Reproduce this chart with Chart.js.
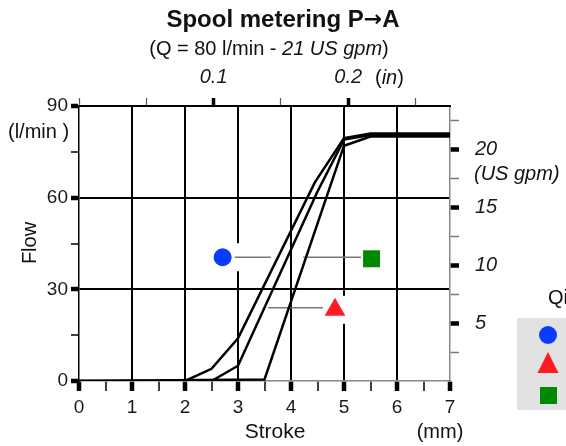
<!DOCTYPE html>
<html>
<head>
<meta charset="utf-8">
<script src="https://cdn.jsdelivr.net/npm/chart.js"></script>
<style>
  html, body { margin: 0; padding: 0; background: #fff; overflow: hidden; }
</style>
</head>
<body>
<canvas id="spoolChart" width="566" height="446"></canvas>
<script>
// curves: stroke (mm) -> flow (l/min)
const strokeA = [0, 2, 2.5, 3, 4.45, 5, 5.5, 7];
const flowA   = [0, 0, 4, 14, 65, 79.5, 81, 81];
const strokeB = [0, 2.5, 3, 4.5, 5, 5.5, 7];
const flowB   = [0, 0, 5, 62, 79, 80.5, 80.5];
const strokeC = [0, 3.5, 5, 5.5, 7];
const flowC   = [0, 0.5, 77, 80, 80];

// markers and their leader lines
const markerStroke = [2.71, 4.83, 5.52];
const markerFlow   = [40.5, 23.3, 40];
const leaderFrom   = [2.94, 3.57, 4.23];
const leaderTo     = [3.62, 4.60, 5.32];
const leaderFlow   = [40.5, 24, 40.5];

// ticks
const strokeTicks = [0, 0.5, 1, 1.5, 2, 2.5, 3, 3.5, 4, 4.5, 5, 5.5, 6, 6.5, 7];
const flowTicks   = [0, 15, 30, 45, 60, 75, 90];
const gpmTicks    = [2.5, 5, 7.5, 10, 12.5, 15, 17.5, 20, 22.5];
const inchTicks   = [0, 0.05, 0.1, 0.15, 0.2, 0.25];

const LPM_PER_GPM = 3.785;
const MM_PER_IN = 25.4;

const FONT = "'Liberation Sans', Arial, sans-serif";
Chart.defaults.font.family = FONT;
Chart.defaults.color = '#1a1a1a';

function pts(xs, ys) { return xs.map((x, i) => ({ x: x, y: ys[i] })); }
function isStep(v, step) { return Math.abs(v / step - Math.round(v / step)) < 1e-6; }

const curveStyle = { borderColor: '#000', borderWidth: 2.5, pointRadius: 0, showLine: true, tension: 0, fill: false };
const leaderStyle = { borderColor: '#777', borderWidth: 1.5, pointRadius: 0, showLine: true };

// white patch behind each marker (cuts the grid like in the original)
const markerBack = {
  id: 'markerBack',
  beforeDatasetsDraw(chart) {
    const ctx = chart.ctx;
    ctx.save();
    ctx.fillStyle = '#fff';
    [6, 7, 8].forEach(i => {
      const p = chart.getDatasetMeta(i).data[0];
      ctx.fillRect(p.x - 20, p.y - 14, 40, 28);
    });
    ctx.restore();
  }
};

function drawParts(ctx, parts, x, y, align) {
  let total = 0;
  parts.forEach(p => { ctx.font = p[1]; total += ctx.measureText(p[0]).width; });
  let cx = align === 'center' ? x - total / 2 : x;
  ctx.textAlign = 'left';
  parts.forEach(p => { ctx.font = p[1]; ctx.fillText(p[0], cx, y); cx += ctx.measureText(p[0]).width; });
}

const texts = {
  id: 'texts',
  afterDraw(chart) {
    const ctx = chart.ctx;
    const n = '20px ' + FONT, it = 'italic 20px ' + FONT;
    const b = 'bold 24px ' + FONT;
    ctx.save();
    ctx.fillStyle = '#111';
    ctx.textBaseline = 'middle';
    drawParts(ctx, [['Spool metering P', b], ['\u2192', "bold 22px 'DejaVu Sans'"], ['A', b]], 283, 20, 'center');
    drawParts(ctx, [['(Q = 80 l/min - ', n], ['21 US gpm', it], [')', n]], 269, 49, 'center');
    drawParts(ctx, [['(', n], ['in', it], [')', n]], 375, 78, 'left');
    drawParts(ctx, [['(l/min )', n]], 8, 132, 'left');
    drawParts(ctx, [['(US gpm)', it]], 474, 174, 'left');
    drawParts(ctx, [['Stroke', '21px ' + FONT]], 275, 432, 'center');
    drawParts(ctx, [['(mm)', '20px ' + FONT]], 440, 432, 'center');
    drawParts(ctx, [['Qi', n]], 548, 298, 'left');
    ctx.translate(30, 243);
    ctx.rotate(-Math.PI / 2);
    drawParts(ctx, [['Flow', '20px ' + FONT]], 0, 0, 'center');
    ctx.restore();

    // legend box (cut at the right edge)
    ctx.save();
    ctx.fillStyle = '#e2e2e2';
    ctx.fillRect(517, 318, 60, 92);
    ctx.fillStyle = '#0a3cff';
    ctx.beginPath(); ctx.arc(548, 335, 9, 0, Math.PI * 2); ctx.fill();
    ctx.fillStyle = '#ff1a24';
    ctx.beginPath(); ctx.moveTo(548, 352); ctx.lineTo(558.5, 373); ctx.lineTo(537.5, 373); ctx.closePath(); ctx.fill();
    ctx.fillStyle = '#008a00';
    ctx.fillRect(540, 387, 17, 17);
    ctx.restore();
  }
};

new Chart(document.getElementById('spoolChart'), {
  type: 'scatter',
  data: {
    datasets: [
      Object.assign({ data: pts(strokeA, flowA) }, curveStyle),
      Object.assign({ data: pts(strokeB, flowB) }, curveStyle),
      Object.assign({ data: pts(strokeC, flowC) }, curveStyle),
      Object.assign({ data: pts([leaderFrom[0], leaderTo[0]], [leaderFlow[0], leaderFlow[0]]) }, leaderStyle),
      Object.assign({ data: pts([leaderFrom[1], leaderTo[1]], [leaderFlow[1], leaderFlow[1]]) }, leaderStyle),
      Object.assign({ data: pts([leaderFrom[2], leaderTo[2]], [leaderFlow[2], leaderFlow[2]]) }, leaderStyle),
      { data: [{ x: markerStroke[0], y: markerFlow[0] }], pointStyle: 'circle', pointRadius: 9, backgroundColor: '#0a3cff', borderWidth: 0 },
      { data: [{ x: markerStroke[1], y: markerFlow[1] }], pointStyle: 'triangle', pointRadius: 12, backgroundColor: '#ff1a24', borderWidth: 0 },
      { data: [{ x: markerStroke[2], y: markerFlow[2] }], pointStyle: 'rect', pointRadius: 12, backgroundColor: '#008a00', borderWidth: 0 }
    ]
  },
  options: {
    responsive: false,
    animation: false,
    layout: { padding: 0 },
    plugins: { legend: { display: false }, tooltip: { enabled: false } },
    scales: {
      x: {
        type: 'linear', position: 'bottom', min: 0, max: 7,
        afterBuildTicks: s => { s.ticks = strokeTicks.map(v => ({ value: v })); },
        afterFit: s => { s.height = 65; },
        ticks: { autoSkip: false, maxRotation: 0, padding: 5, font: { size: 19 },
          callback: v => isStep(v, 1) ? v : '' },
        grid: {
          color: c => (isStep(c.tick.value, 1) && c.tick.value > 0 && c.tick.value < 7) ? '#000' : 'rgba(0,0,0,0)',
          lineWidth: 2, tickLength: 10, tickColor: '#000',
          tickWidth: c => isStep(c.tick.value, 1) ? 4.5 : 1.5
        },
        border: { color: '#888', width: 1.5 }
      },
      y: {
        type: 'linear', position: 'left', min: 0, max: 90,
        afterBuildTicks: s => { s.ticks = flowTicks.map(v => ({ value: v })); },
        afterFit: s => { s.width = 79; },
        ticks: { autoSkip: false, padding: 3, font: { size: 19 },
          callback: v => isStep(v, 30) ? v : '' },
        grid: {
          color: c => (isStep(c.tick.value, 30) && c.tick.value > 0) ? '#000' : 'rgba(0,0,0,0)',
          lineWidth: 2, tickLength: 8, tickColor: '#000',
          tickWidth: c => isStep(c.tick.value, 30) ? 4.5 : 1.5
        },
        border: { color: '#000', width: 1.5 }
      },
      yr: {
        type: 'linear', position: 'right', min: 0, max: 90 / LPM_PER_GPM,
        afterBuildTicks: s => { s.ticks = gpmTicks.map(v => ({ value: v })); },
        afterFit: s => { s.width = 116; },
        ticks: { autoSkip: false, padding: 16, font: { size: 20, style: 'italic' },
          callback: v => isStep(v, 5) ? v : '' },
        grid: {
          drawOnChartArea: false, tickLength: 9,
          tickColor: c => isStep(c.tick.value, 5) ? '#000' : '#777',
          tickWidth: c => isStep(c.tick.value, 5) ? 4.5 : 1.5
        },
        border: { color: '#888', width: 1.5 }
      },
      xt: {
        type: 'linear', position: 'top', min: 0, max: 7 / MM_PER_IN,
        afterBuildTicks: s => { s.ticks = inchTicks.map(v => ({ value: v })); },
        afterFit: s => { s.height = 106; },
        ticks: { autoSkip: false, maxRotation: 0, padding: 9, font: { size: 20, style: 'italic' },
          callback: v => (v > 0 && isStep(v, 0.1)) ? v.toFixed(1) : '' },
        grid: {
          drawOnChartArea: false, tickLength: 8,
          tickColor: c => (c.tick.value > 0 && isStep(c.tick.value, 0.1)) ? '#000' : '#555',
          tickWidth: c => (c.tick.value > 0 && isStep(c.tick.value, 0.1)) ? 3.5 : 1.2
        },
        border: { color: '#000', width: 2 }
      }
    }
  },
  plugins: [markerBack, texts]
});
</script>
</body>
</html>
